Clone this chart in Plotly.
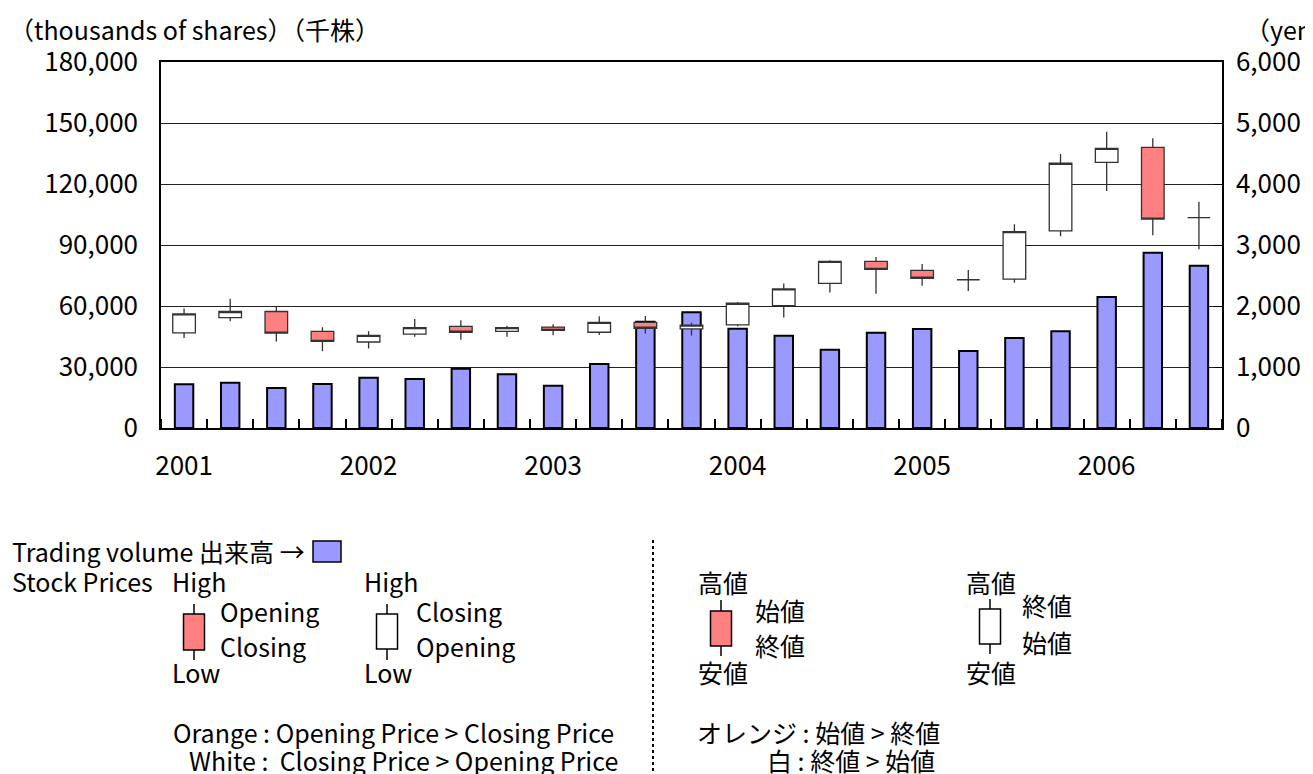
import plotly.graph_objects as go

# ---------------- data ----------------
periods = ["2001Q1", "2001Q2", "2001Q3", "2001Q4",
           "2002Q1", "2002Q2", "2002Q3", "2002Q4",
           "2003Q1", "2003Q2", "2003Q3", "2003Q4",
           "2004Q1", "2004Q2", "2004Q3", "2004Q4",
           "2005Q1", "2005Q2", "2005Q3", "2005Q4",
           "2006Q1", "2006Q2", "2006Q3"]
volume = [21500, 22300, 19700, 21600, 24700, 24100, 29200, 26400, 20800, 31500,
          52300, 56900, 48800, 45400, 38500, 46900, 48700, 37900, 44300, 47600,
          64400, 86200, 79800]
price_open = [1560, 1810, 1910, 1585, 1410, 1540, 1665, 1585, 1655, 1570,
              1730, 1625, 1690, 2005, 2370, 2730, 2585, 2430, 2440, 3230,
              4355, 4600, 3450]
price_close = [1870, 1910, 1555, 1420, 1520, 1645, 1570, 1645, 1600, 1730,
               1635, 1685, 2045, 2280, 2730, 2600, 2455, 2430, 3220, 4340,
               4585, 3425, 3450]
price_high = [1960, 2120, 1990, 1650, 1585, 1785, 1765, 1675, 1700, 1830,
              1835, 1725, 2065, 2370, 2750, 2805, 2690, 2590, 3340, 4490,
              4855, 4750, 3710]
price_low = [1475, 1750, 1420, 1260, 1305, 1495, 1445, 1495, 1520, 1525,
             1550, 1515, 1670, 1810, 2220, 2200, 2330, 2245, 2380, 3145,
             3885, 3160, 2930]
year_labels = ["2001", "2002", "2003", "2004", "2005", "2006"]

FONT = "Noto Sans CJK JP"
x = list(range(len(periods)))
year_pos = [periods.index(y + "Q1") for y in year_labels]

fig = go.Figure()
fig.add_trace(go.Bar(
    x=x, y=volume, width=0.4, yaxis="y",
    marker=dict(color="#9999FF", line=dict(color="black", width=2)),
    showlegend=False, hoverinfo="skip"))
fig.add_trace(go.Candlestick(
    x=x, open=price_open, high=price_high, low=price_low, close=price_close,
    yaxis="y2", showlegend=False, whiskerwidth=0,
    increasing=dict(fillcolor="white", line=dict(color="#333333", width=1.3)),
    decreasing=dict(fillcolor="#FF8080", line=dict(color="#333333", width=1.3))))

# ---------------- layout helpers (page pixel -> paper) ----------------
# the page adds an 8px body margin; the figure is sized so the plot lands
# at page pixels x 161..1222, y 62..428
PAGE_OFF = 8
L, R, T, B = 161, 1222, 62, 428
FIG_W, FIG_H = 1313 - PAGE_OFF, 774 - PAGE_OFF

def px(v):
    return (v - L) / (R - L)
def py(v):
    return (B - v) / (B - T)

annotations = []
shapes = []
LEG = 25

def text(s, xl, yc, size=LEG):
    annotations.append(dict(text=s, x=px(xl), y=py(yc), xref="paper", yref="paper",
                            xanchor="left", yanchor="middle", showarrow=False,
                            font=dict(family=FONT, size=size, color="black")))

def candle(xc, top, bot, wt, wb, fill, w=21):
    shapes.append(dict(type="line", xref="paper", yref="paper", x0=px(xc), x1=px(xc),
                       y0=py(wt), y1=py(top), line=dict(color="black", width=1.5)))
    shapes.append(dict(type="line", xref="paper", yref="paper", x0=px(xc), x1=px(xc),
                       y0=py(bot), y1=py(wb), line=dict(color="black", width=1.5)))
    shapes.append(dict(type="rect", xref="paper", yref="paper", x0=px(xc - w / 2), x1=px(xc + w / 2),
                       y0=py(bot), y1=py(top), fillcolor=fill, line=dict(color="black", width=1.5)))

# axis titles
text("（thousands of shares）（千株）", 7, 29)
text("（yen）", 1243, 29)

# left legend
text("Trading volume 出来高 →", 10, 551)
shapes.append(dict(type="rect", xref="paper", yref="paper", x0=px(313), x1=px(341),
                   y0=py(562), y1=py(541), fillcolor="#9999FF", line=dict(color="black", width=1.5)))
text("Stock Prices", 10, 581)
text("High", 170, 581)
candle(194, 614, 650, 604, 660, "#FF8080")
text("Opening", 218, 611)
text("Closing", 218, 646)
text("Low", 170, 672)
text("High", 362, 581)
candle(387, 614, 649, 604, 660, "white")
text("Closing", 414, 611)
text("Opening", 414, 646)
text("Low", 362, 672)
text("Orange : Opening Price > Closing Price", 171, 732)
text("White :  Closing Price > Opening Price", 187, 760)

# separator
shapes.append(dict(type="line", xref="paper", yref="paper", x0=px(653), x1=px(653),
                   y0=py(540), y1=py(774), line=dict(color="black", width=2, dash="dot")))

# right legend
text("高値", 696, 582)
candle(721, 611, 646, 600, 656, "#FF8080")
text("始値", 753, 610)
text("終値", 753, 645)
text("安値", 696, 672)
text("高値", 964, 582)
candle(990, 609, 644, 599, 654, "white")
text("終値", 1020, 605)
text("始値", 1020, 642)
text("安値", 964, 672)
text("オレンジ : 始値 > 終値", 695, 732)
text("白 : 終値 > 始値", 765, 760)

TICK = 26
fig.update_layout(
    width=FIG_W, height=FIG_H,
    margin=dict(l=L - PAGE_OFF, r=1313 - R, t=T - PAGE_OFF, b=774 - B),
    paper_bgcolor="white", plot_bgcolor="white",
    barmode="overlay", showlegend=False,
    font=dict(family=FONT, size=TICK, color="black"),
    xaxis=dict(range=[-0.5, len(periods) - 0.5], tickvals=year_pos, ticktext=year_labels,
               ticks="", showgrid=False, zeroline=False, showline=True, linecolor="black",
               linewidth=1.5, mirror=True, rangeslider=dict(visible=False),
               ticklabelstandoff=14,
               tickfont=dict(family=FONT, size=TICK, color="black"),
               minor=dict(tick0=-0.5, dtick=1, ticks="inside", ticklen=9,
                          tickcolor="black", tickwidth=1.5, showgrid=False)),
    yaxis=dict(range=[0, 180000], dtick=30000, tickformat=",", showgrid=True,
               gridcolor="#222222", gridwidth=1, zeroline=False, showline=True,
               linecolor="black", linewidth=1.5, ticks="", ticklabelstandoff=16,
               tickfont=dict(family=FONT, size=TICK, color="black")),
    yaxis2=dict(range=[0, 6000], dtick=1000, tickformat=",", overlaying="y", side="right",
                showgrid=False, zeroline=False, showline=True, linecolor="black",
                linewidth=1.5, ticks="inside", ticklen=8, tickcolor="black",
                ticklabelstandoff=7,
                tickfont=dict(family=FONT, size=TICK, color="black")),
    annotations=annotations, shapes=shapes,
)

fig.write_html("out.html")
